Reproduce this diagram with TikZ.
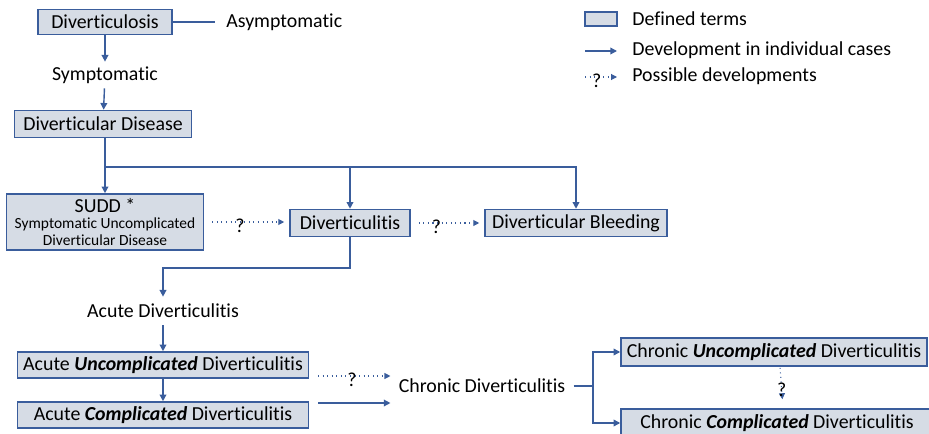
\documentclass[tikz,border=0pt]{standalone}
\usepackage{fontspec}
\setmainfont{Carlito}[Ligatures=NoCommon]
\usetikzlibrary{arrows.meta}
\definecolor{termfill}{HTML}{D6DCE5}
\definecolor{termline}{HTML}{3A5D9C}
\begin{document}
\begin{tikzpicture}[x=0.02cm,y=-0.02cm,font=\fontsize{11.3}{13}\selectfont,
        term/.style={draw=termline,fill=termfill,line width=0.9pt,inner sep=0pt,minimum height=0.54cm},
        lbl/.style={inner sep=0pt,minimum height=0.52cm},
        dev/.style={draw=termline,line width=0.8pt,-{Triangle[length=3.8pt,width=3.8pt]}},
        link/.style={draw=termline,line width=0.8pt},
        poss/.style={draw=termline,line width=0.6pt,dotted,-{Triangle[length=3.4pt,width=3.4pt]},shorten <=0.16cm,shorten >=0.1cm},
        qm/.style={inner sep=0pt,yshift=-0.07cm}]
        \useasboundingbox (0,0) rectangle (929,433);
        \node [term,minimum width=2.68cm,minimum height=0.5cm] (dvs) at (105,22) {Diverticulosis};
        \node [lbl,anchor=west,inner xsep=0.22cm] (asy) at (215,22) {Asymptomatic};
        \node [lbl] (sym) at (105,75) {Symptomatic};
        \node [term,minimum width=3.54cm] (dd) at (103,124) {Diverticular Disease};
        \node [term,minimum width=3.94cm,minimum height=1.12cm,align=center,font=\fontsize{8.8}{9.4}\selectfont] (sudd) at (105,222)
            {{\fontsize{11.3}{9.4}\selectfont SUDD *}\\Symptomatic Uncomplicated\\Diverticular Disease};
        \node [term,minimum width=2.4cm] (dvt) at (350,223) {Diverticulitis};
        \node [term,minimum width=3.64cm] (bld) at (576,223) {Diverticular Bleeding};
        \node [lbl,minimum height=0.56cm] (acd) at (163,311) {Acute Diverticulitis};
        \node [term,minimum width=5.82cm,minimum height=0.52cm] (acu) at (163,365) {Acute \textbf{\textit{Uncomplicated}} Diverticulitis};
        \node [term,minimum width=5.82cm,minimum height=0.52cm] (acc) at (163,415) {Acute \textbf{\textit{Complicated}} Diverticulitis};
        \node [lbl,inner xsep=0.16cm] (cd) at (482,386) {Chronic Diverticulitis};
        \node [term,minimum width=6.12cm,minimum height=0.56cm] (cu) at (774,352) {Chronic \textbf{\textit{Uncomplicated}} Diverticulitis};
        \node [term,minimum width=6.24cm,minimum height=0.56cm] (cc) at (777,423) {Chronic \textbf{\textit{Complicated}} Diverticulitis};
        \draw [link] (dvs) -- (asy);
        \draw [dev] (dvs) -- (sym);
        \draw [dev] (sym) -- (dd);
        \coordinate (split) at (105,167);
        \draw [link] (dd.south -| split) -- (split);
        \draw [dev] (split) -- (sudd);
        \draw [dev] (split) -| (dvt);
        \draw [dev] (split) -| (bld);
        \draw [poss] (sudd) -- node [qm,pos=0.42] {?} (sudd -| dvt.west);
        \draw [poss] (dvt) -- node [qm,pos=0.35] {?} (bld);
        \coordinate (bend) at (350,268);
        \draw [dev] (dvt) -- (bend) -| (acd);
        \draw [dev] (acd) -- (acu);
        \draw [dev] (acu) -- (acc);
        \coordinate (q1) at (318,376);
        \coordinate (q2) at (318,403);
        \draw [poss,shorten <=0pt,shorten >=0pt] (q1) -- node [qm,pos=0.47] {?} (q1 -| cd.west);
        \draw [dev] (q2) -- (q2 -| cd.west);
        \coordinate (fork) at (593,386);
        \draw [link] (cd) -- (fork);
        \draw [dev] (fork) |- (cu);
        \draw [dev] (fork) |- (cc);
        \draw [poss,shorten <=0.02cm,shorten >=0.18cm] ([xshift=0.12cm]cu.south) -- node [qm,pos=0.55,yshift=0.07cm] {?} ([xshift=0.12cm]cc.north);
        % legend
        \node [term,minimum width=0.64cm,minimum height=0.28cm] (leg) at (601,19) {};
        \node [anchor=west,inner sep=0pt] (legt) at (632,19) {Defined terms};
        \coordinate (d1) at (585,51);
        \coordinate (d2) at (617,51);
        \draw [dev] (d1) -- (d2);
        \node [anchor=west,inner sep=0pt] (devt) at (632,50) {Development in individual cases};
        \coordinate (p1) at (585,77);
        \coordinate (p2) at (617,77);
        \draw [poss,shorten <=0pt,shorten >=0pt] (p1) -- node [qm,pos=0.37] {?} (p2);
        \node [anchor=west,inner sep=0pt] (posst) at (632,76) {Possible developments};
\end{tikzpicture}
\end{document}
